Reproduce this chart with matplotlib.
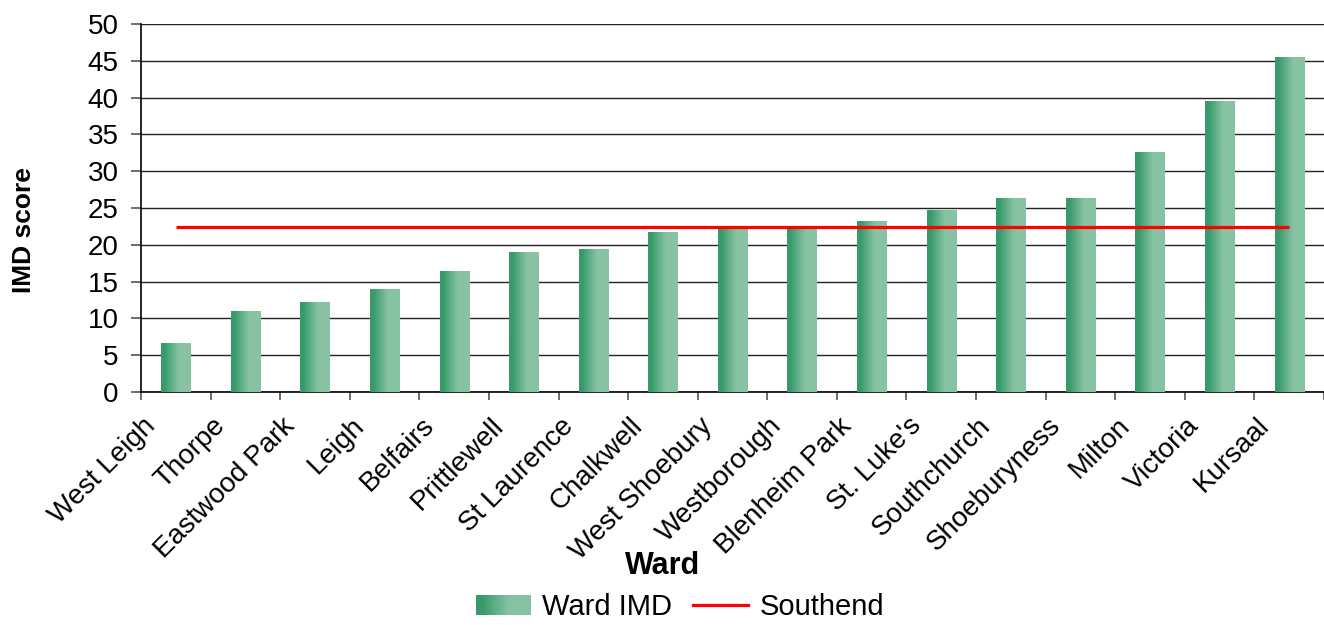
import numpy as np
import matplotlib
matplotlib.use("Agg")
import matplotlib.pyplot as plt
from matplotlib.colors import LinearSegmentedColormap
from matplotlib.legend_handler import HandlerBase
from matplotlib.lines import Line2D
from matplotlib.patches import Rectangle
from matplotlib.transforms import ScaledTranslation

wards = ["West Leigh", "Thorpe", "Eastwood Park", "Leigh", "Belfairs", "Prittlewell",
         "St Laurence", "Chalkwell", "West Shoebury", "Westborough", "Blenheim Park",
         "St. Luke's", "Southchurch", "Shoeburyness", "Milton", "Victoria", "Kursaal"]
ward_imd = [6.6, 10.9, 12.1, 13.9, 16.4, 18.9, 19.4, 21.7, 22.5, 22.5, 23.2,
            24.6, 26.3, 26.3, 32.6, 39.5, 45.4]
southend = [22.4] * len(wards)

plt.rcParams['font.family'] = ['Liberation Sans', 'DejaVu Sans']

dark = "#389A6A"
light = "#87C3A3"
grad_cmap = LinearSegmentedColormap.from_list(
    "bar_grad", [(0, dark), (0.12, dark), (0.6, light), (1, light)])
grad = np.linspace(0, 1, 256).reshape(1, -1)


class GradientHandler(HandlerBase):
    # draws the legend box as a row of thin strips from dark to light
    def create_artists(self, legend, orig_handle, xdescent, ydescent,
                       width, height, fontsize, trans):
        n = 40
        arts = []
        for i in range(n):
            c = grad_cmap((i + 0.5) / n)
            r = Rectangle((-xdescent + width * i / n, -ydescent), width / n * 1.05, height,
                          facecolor=c, edgecolor='none', transform=trans)
            arts.append(r)
        return arts


fig = plt.figure(figsize=(13.24, 6.25), dpi=100)
ax = fig.add_axes([141 / 1324, 1 - 392 / 625, (1324 - 141) / 1324, (392 - 24) / 625])

x = np.arange(len(wards))
bars = ax.bar(x, ward_imd, width=0.42, color='none', edgecolor='none', zorder=3)
for b in bars:
    x0, w, h = b.get_x(), b.get_width(), b.get_height()
    ax.imshow(grad, extent=[x0, x0 + w, 0, h], aspect='auto', cmap=grad_cmap,
              interpolation='bilinear', zorder=3)

ax.plot(x, southend, color='#FF0000', lw=2.3, zorder=4, solid_capstyle='butt')

ax.set_xlim(-0.5, len(wards) - 0.5)
ax.set_ylim(0, 50)
ax.set_yticks(np.arange(0, 51, 5))
ax.yaxis.grid(True, color='#222222', lw=1.0)
ax.set_axisbelow(True)

ax.set_xticks(x)
ax.set_xticklabels(wards, rotation=45, ha='right')
ax.set_xticks(np.arange(-0.5, len(wards), 1), minor=True)
ax.tick_params(axis='x', which='major', length=0, pad=15, labelsize=20)
ax.tick_params(axis='x', which='minor', length=6, width=1.2, color='#555555', direction='out')
ax.tick_params(axis='y', length=7, width=1.2, color='#555555', pad=9, labelsize=20)

# nudge the slanted labels a little to the left, as in the original
shift = ScaledTranslation(-0.15, 0, fig.dpi_scale_trans)
for lab in ax.get_xticklabels():
    lab.set_transform(lab.get_transform() + shift)

for s in ['top', 'right']:
    ax.spines[s].set_visible(False)
ax.spines['left'].set_color('black')
ax.spines['bottom'].set_color('black')
ax.spines['left'].set_linewidth(1.2)
ax.spines['bottom'].set_linewidth(1.2)

ax.set_ylabel("IMD score", fontsize=19, fontweight='bold')
ax.yaxis.set_label_coords((36 - 141) / 1183, (392 - 230) / 368)
ax.set_xlabel("Ward", fontsize=22, fontweight='bold')
ax.xaxis.set_label_coords((663 - 141) / 1183, (392 - 551) / 368)

handles = [Rectangle((0, 0), 1, 1), Line2D([], [], color='#FF0000', lw=2.3)]
fig.legend(handles, ["Ward IMD", "Southend"], loc='center', ncol=2,
           bbox_to_anchor=(680 / 1324, 1 - 607 / 625), frameon=False, fontsize=21,
           handlelength=1.9, handletextpad=0.38, columnspacing=0.7, borderpad=0,
           handler_map={Rectangle: GradientHandler()})

fig.savefig("out.png", dpi=100)
